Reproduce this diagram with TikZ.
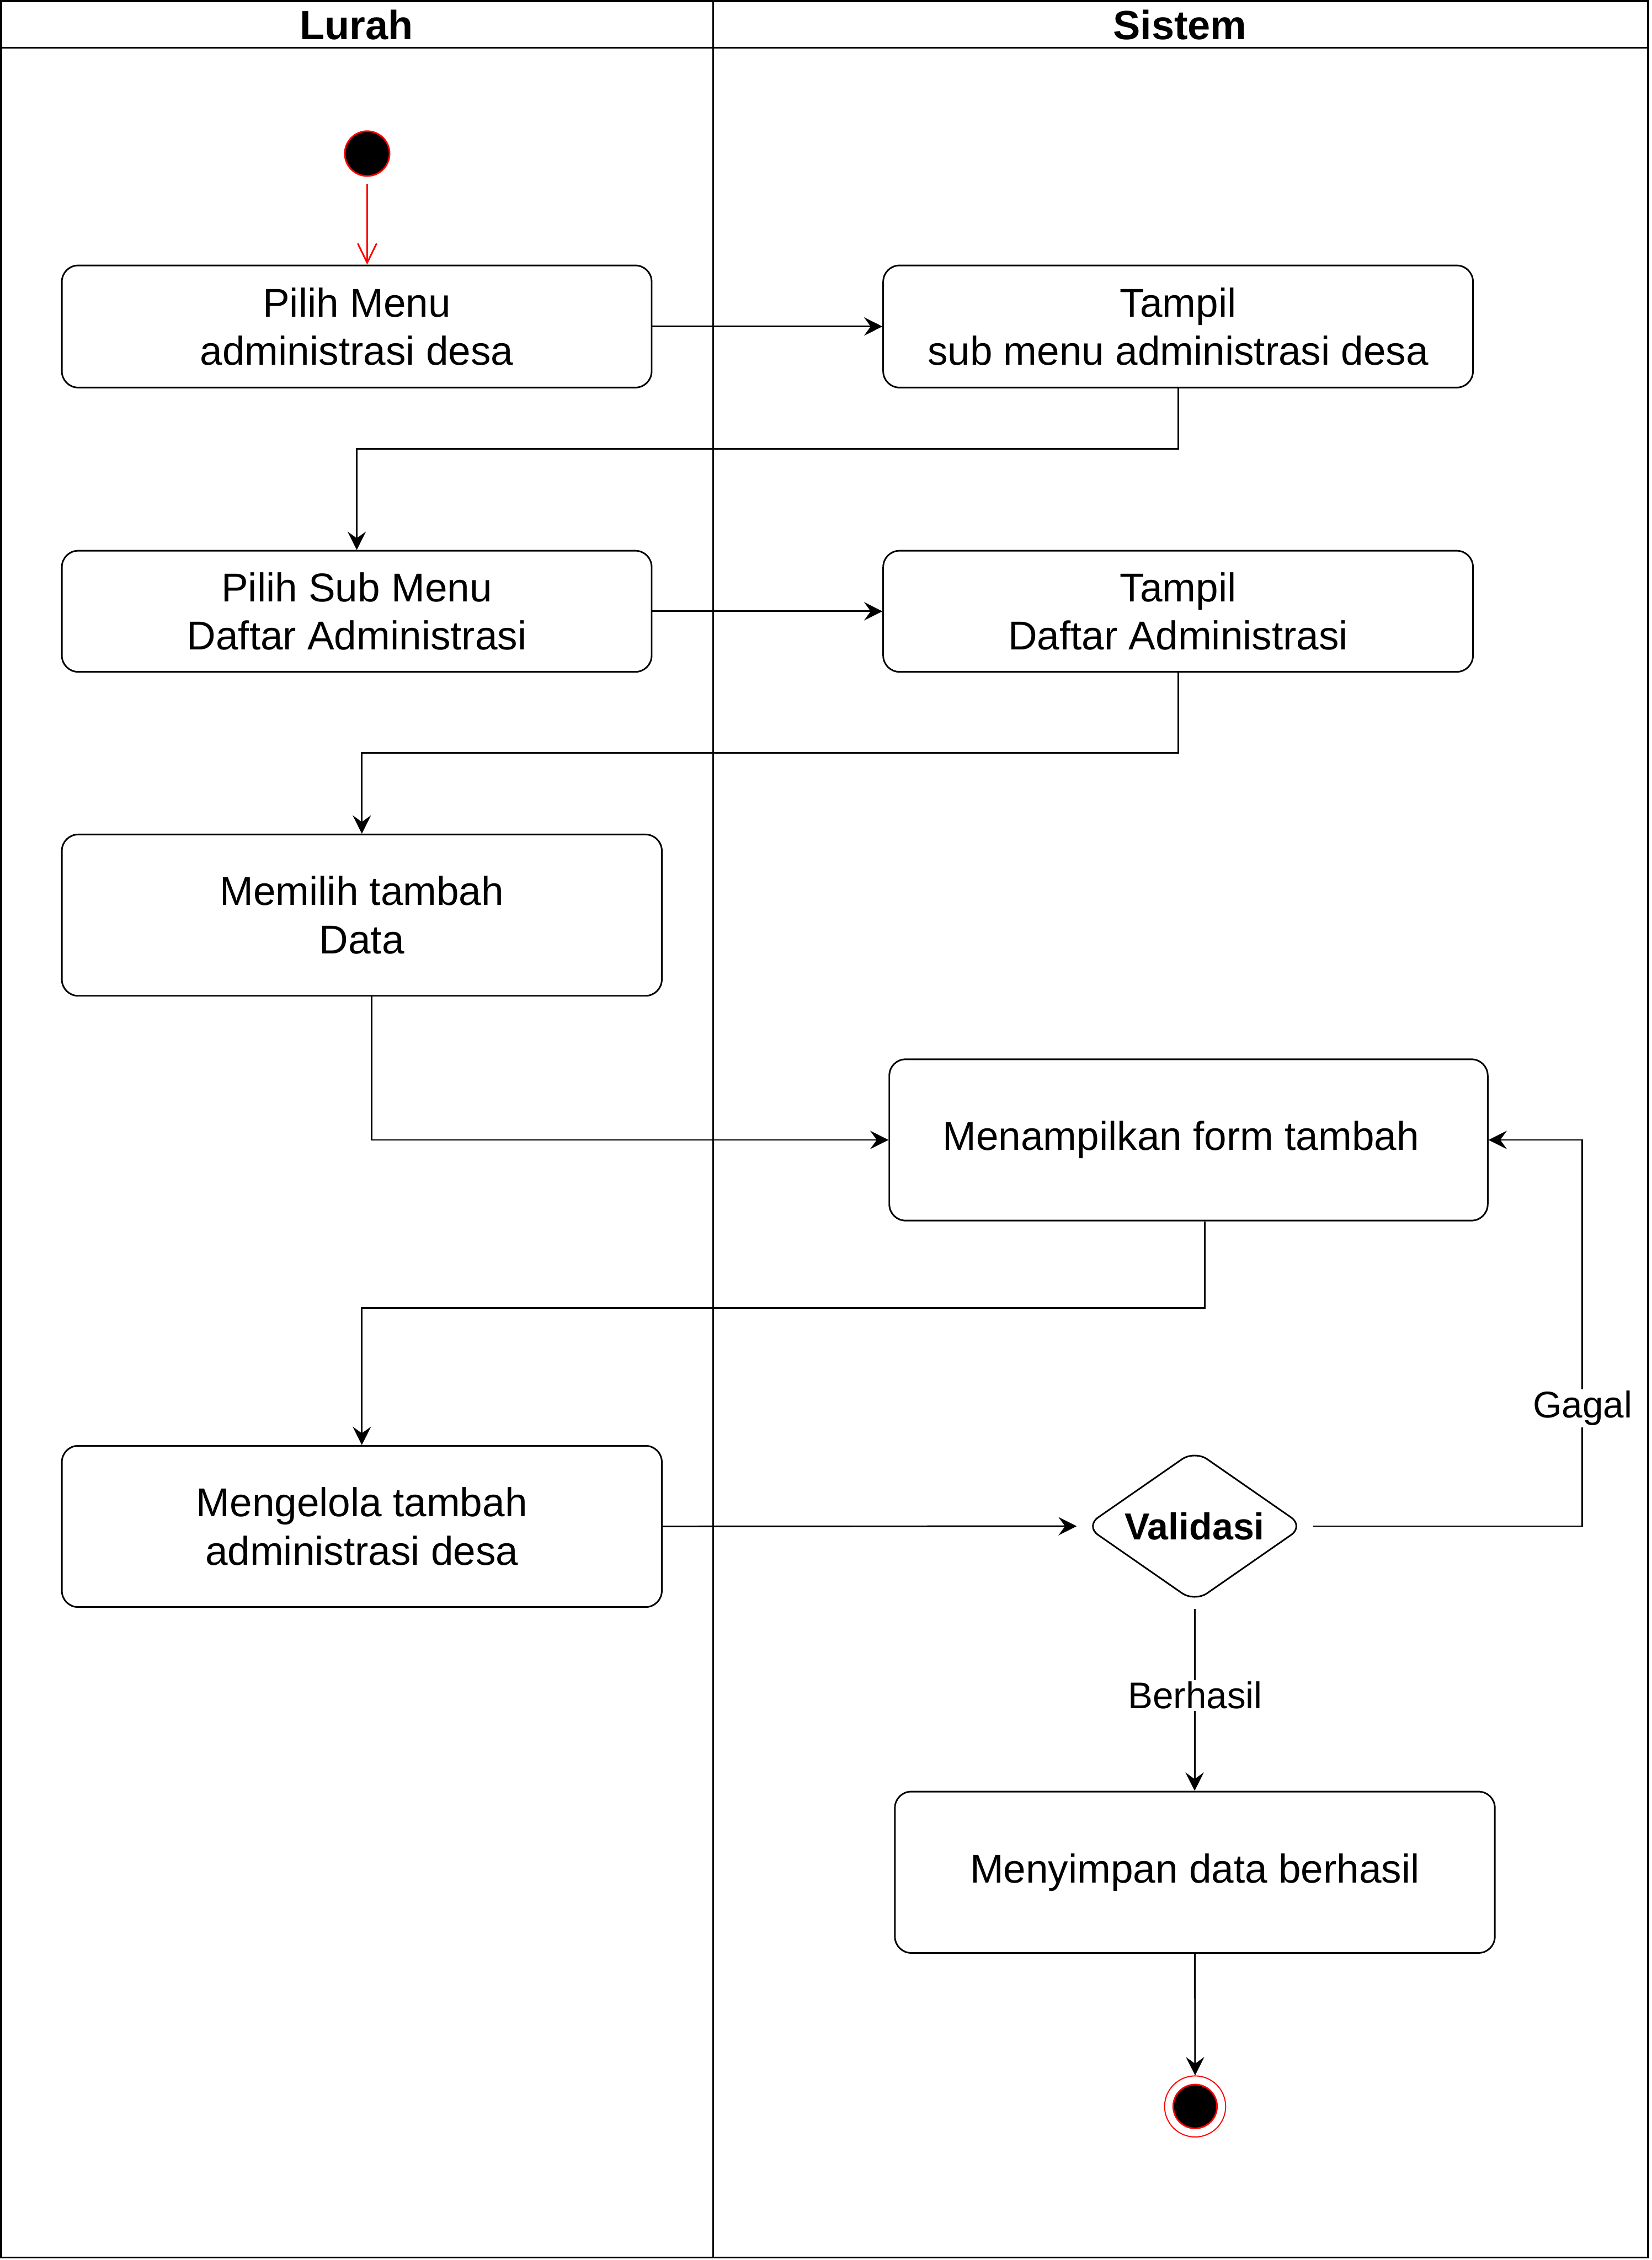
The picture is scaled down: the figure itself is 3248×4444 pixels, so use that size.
\documentclass[tikz,border=0pt]{standalone}
\usepackage{fontspec}
\setmainfont{Liberation Sans}
\usetikzlibrary{arrows.meta,shapes.geometric,calc}
\begin{document}
\begin{tikzpicture}[x=0.01cm,y=-0.01cm,
  box/.style={draw, line width=0.9pt, rounded corners=0.32cm, inner sep=0pt, align=center,
    font=\fontsize{22.5}{27}\selectfont},
  flow/.style={draw, line width=0.9pt, -{Stealth[length=0.36cm,width=0.36cm,inset=0.13cm]}},
  lbl/.style={fill=white, inner sep=1pt, anchor=base, font=\fontsize{20.8}{25}\selectfont},
  hdr/.style={font=\bfseries\fontsize{22.8}{27}\selectfont},
]
\useasboundingbox (0,0) rectangle (3248,4444);
% swimlane frame
\draw[line width=1.14pt] (2,2) rectangle (3241,4439);
\draw[line width=1.14pt] (2,94) -- (3241,94);
\draw[line width=0.9pt] (1402,2) -- (1402,4439);
\node[hdr] (hL) at (701,49) {Lurah};
\node[hdr] (hS) at (2320,49) {Sistem};

% start
\node[circle, draw=red, fill=black, line width=0.9pt, minimum size=0.88cm, inner sep=0pt] (start) at (722,302) {};

% activities
\node[box, minimum width=11.59cm, minimum height=2.40cm] (B1) at (701.5,642) {Pilih Menu\\administrasi desa};
\node[box, minimum width=11.59cm, minimum height=2.40cm] (B2) at (2316.5,642) {Tampil\\sub menu administrasi desa};
\node[box, minimum width=11.59cm, minimum height=2.38cm] (B3) at (701.5,1202) {Pilih Sub Menu\\Daftar Administrasi};
\node[box, minimum width=11.59cm, minimum height=2.38cm] (B4) at (2316.5,1202) {Tampil\\Daftar Administrasi};
\node[box, minimum width=11.79cm, minimum height=3.17cm] (B5) at (711.5,1799.5) {Memilih tambah\\Data};
\node[box, minimum width=11.76cm, minimum height=3.17cm] (B6) at (2337,2241.5) {Menampilkan form tambah\hspace*{0.3cm}};
\node[box, minimum width=11.79cm, minimum height=3.17cm] (B7) at (711.5,3001.5) {Mengelola tambah\\administrasi desa};
\node[diamond, aspect=1.45, draw, line width=0.9pt, rounded corners=0.3cm, minimum width=4.3cm,
  minimum height=2.99cm, inner sep=0pt, font=\bfseries\fontsize{21}{25}\selectfont] (V) at (2349,3001) {Validasi};
\node[box, minimum width=11.79cm, minimum height=3.17cm] (B8) at (2349.5,3681.5) {Menyimpan data berhasil};

% end
\node[circle, draw=red, line width=0.6pt, minimum size=1.20cm, inner sep=0pt] (end) at (2350,4142) {};
\node[circle, draw=red, fill=black, line width=0.9pt, minimum size=0.86cm, inner sep=0pt] (endin) at (end) {};

% connectors
\draw[red, line width=0.9pt, -{Straight Barb[length=0.38cm,width=0.37cm]}, shorten <=0.15cm]
  (start.south) -- (start.south |- B1.north);
\draw[flow] (B1.east) -- (B2.west);
\draw[flow] (B2.south) -- ++(0,119) -| (B3.north);
\draw[flow] (B3.east) -- (B4.west);
\draw[flow] (B4.south) -- ++(0,158) -| (B5.north);
\draw[flow] ($(B5.south)+(19.5,0)$) |- (B6.west);
\draw[flow] ($(B6.south)+(32,0)$) -- ++(0,170) -| (B7.north);
\draw[flow, shorten >=0.15cm] (B7.east) -- (V.west);
\draw[flow, shorten <=0.16cm] (V.east) -| ($(B6.east)+(184,0)$) -- (B6.east);
\draw[flow, shorten <=0.11cm] (V.south) -- (V.south |- B8.north);
\draw[flow] (B8.south) -- (end.north);

% labels
\node[lbl] (gagal) at (3112,2788) {Gagal};
\node[lbl] (berhasil) at (2350,3360) {Berhasil};
\end{tikzpicture}
\end{document}
